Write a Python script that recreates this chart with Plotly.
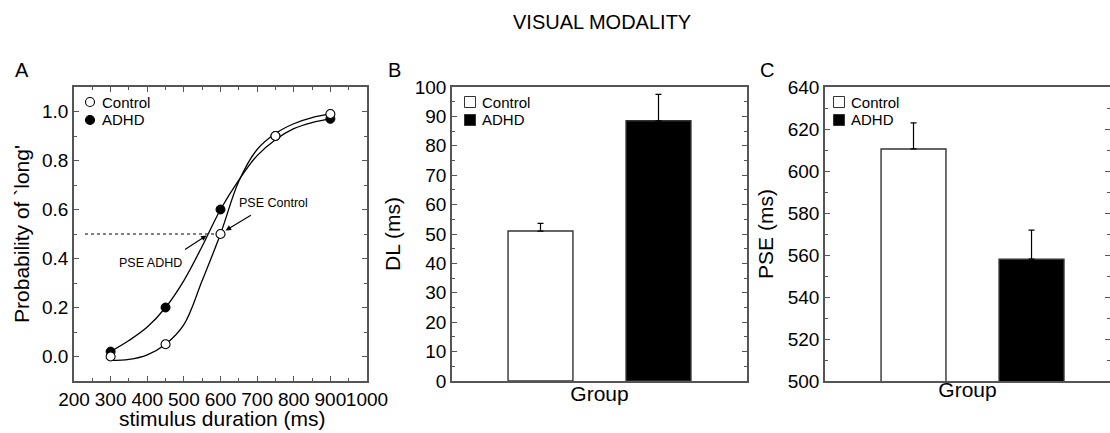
import plotly.graph_objects as go

# ---------------- data ----------------
# Panel A: psychometric data
durations = [300, 450, 600, 750, 900]
p_control = [0.0, 0.05, 0.5, 0.9, 0.99]
p_adhd = [0.02, 0.20, 0.60, 0.90, 0.97]

# fitted curves
curve_x = [300, 350, 400, 450, 500, 550, 600, 650, 700, 750, 800, 850, 900]
curve_control = [-0.016, -0.012, 0.007, 0.05, 0.13, 0.31, 0.50, 0.715, 0.845, 0.91, 0.95, 0.975, 0.99]
curve_adhd = [0.02, 0.065, 0.12, 0.20, 0.31, 0.45, 0.60, 0.72, 0.82, 0.885, 0.93, 0.955, 0.97]

pse_line_x = [230, 600]
pse_line_y = [0.5, 0.5]

# Panels B and C
groups = ["Control", "ADHD"]
group_pos = [0, 1]
dl_mean = [51.0, 88.5]
dl_err = [2.6, 9.0]
pse_mean = [610.5, 558.0]
pse_err = [12.4, 13.8]

bar_fill = ["white", "black"]

FONT = "Liberation Sans, Arial, Helvetica, sans-serif"
AXC = "#555555"
W, H = 1110, 433


def px(x):
    return x / W


def py(y):
    return (H - y) / H


fig = go.Figure()

# ---------------- Panel A ----------------
fig.add_trace(go.Scatter(x=curve_x, y=curve_control, mode="lines", line=dict(color="black", width=1.3, shape="spline"),
                         showlegend=False, xaxis="x", yaxis="y", hoverinfo="skip"))
fig.add_trace(go.Scatter(x=curve_x, y=curve_adhd, mode="lines", line=dict(color="black", width=1.3, shape="spline"),
                         showlegend=False, xaxis="x", yaxis="y", hoverinfo="skip"))
fig.add_trace(go.Scatter(x=pse_line_x, y=pse_line_y, mode="lines", line=dict(color="black", width=1.1, dash="dot"),
                         showlegend=False, xaxis="x", yaxis="y", hoverinfo="skip"))
fig.add_trace(go.Scatter(x=durations, y=p_adhd, mode="markers", name="ADHD", showlegend=False,
                         marker=dict(symbol="circle", size=9, color="black", line=dict(color="black", width=1)),
                         xaxis="x", yaxis="y"))
fig.add_trace(go.Scatter(x=durations, y=p_control, mode="markers", name="Control", showlegend=False,
                         marker=dict(symbol="circle", size=9, color="white", line=dict(color="black", width=1.1)),
                         xaxis="x", yaxis="y"))

# ---------------- Panel B ----------------
for i, g in enumerate(groups):
    fig.add_trace(go.Bar(x=[group_pos[i]], y=[dl_mean[i]], name=g, width=0.55, showlegend=False,
                         marker=dict(color=bar_fill[i], line=dict(color="#333333", width=1.4)),
                         error_y=dict(type="data", symmetric=False, array=[dl_err[i]], arrayminus=[0],
                                      color="black", thickness=1.2, width=3),
                         xaxis="x2", yaxis="y2"))

# ---------------- Panel C ----------------
for i, g in enumerate(groups):
    fig.add_trace(go.Bar(x=[group_pos[i]], y=[pse_mean[i]], name=g, width=0.55, showlegend=False,
                         marker=dict(color=bar_fill[i], line=dict(color="#333333", width=1.4)),
                         error_y=dict(type="data", symmetric=False, array=[pse_err[i]], arrayminus=[0],
                                      color="black", thickness=1.2, width=3),
                         xaxis="x3", yaxis="y3"))

ydom = [py(381), py(87)]

common = dict(showline=True, linecolor=AXC, linewidth=1.5, tickcolor=AXC, automargin=False, tickangle=0,
              tickfont=dict(size=19, color="black", family=FONT), showgrid=False, zeroline=False)

fig.update_layout(
    width=W, height=H,
    margin=dict(l=0, r=0, t=0, b=0),
    paper_bgcolor="white", plot_bgcolor="white",
    font=dict(family=FONT, color="black"),
    barmode="overlay",
    showlegend=False,
    xaxis=dict(domain=[px(74), px(367)], range=[200, 1000], dtick=100, tick0=200, ticks="inside", ticklen=5,
               mirror="allticks",
               minor=dict(dtick=50, ticklen=3, ticks="inside", tickcolor=AXC),
               anchor="y", **common),
    yaxis=dict(domain=ydom, range=[-0.1, 1.1], tickvals=[0, 0.2, 0.4, 0.6, 0.8, 1.0], tickformat=".1f",
               ticks="inside", ticklen=5, mirror="allticks",
               minor=dict(tickvals=[-0.1, 0.1, 0.3, 0.5, 0.7, 0.9, 1.1], ticklen=3, ticks="inside", tickcolor=AXC),
               title=dict(text="Probability of `long'", font=dict(size=21), standoff=7), anchor="x", **common),
    xaxis2=dict(domain=[px(452), px(747)], range=[-0.75, 1.75], showticklabels=False, mirror=True, ticks="",
                title=dict(text="Group", font=dict(size=21), standoff=5), anchor="y2", **common),
    yaxis2=dict(domain=ydom, range=[0, 100], dtick=10, ticks="inside", ticklen=5, mirror="ticks",
                minor=dict(dtick=5, ticklen=3, ticks="inside", tickcolor=AXC),
                title=dict(text="DL (ms)", font=dict(size=21), standoff=8), anchor="x2", **common),
    xaxis3=dict(domain=[px(825), 1.0], range=[-0.75, 1.665], showticklabels=False, mirror=True, ticks="",
                title=dict(text="Group", font=dict(size=21), standoff=1), anchor="y3", **common),
    yaxis3=dict(domain=ydom, range=[500, 640], dtick=20, ticks="inside", ticklen=5, mirror="ticks",
                minor=dict(dtick=10, ticklen=3, ticks="inside", tickcolor=AXC),
                title=dict(text="PSE (ms)", font=dict(size=21), standoff=8), anchor="x3", **common),
)

# ---------------- legends (symbols as shapes, labels as text) ----------------
shapes = []
legend_rows = [102, 120]
# Panel A: circles
for i, g in enumerate(groups):
    cy = legend_rows[i]
    shapes.append(dict(type="circle", xref="paper", yref="paper",
                       x0=px(90 - 4.5), x1=px(90 + 4.5), y0=py(cy + 4.5), y1=py(cy - 4.5),
                       fillcolor=bar_fill[i], line=dict(color="black", width=1.1)))
# Panels B and C: squares
for cx in (470, 839):
    for i, g in enumerate(groups):
        cy = legend_rows[i]
        shapes.append(dict(type="rect", xref="paper", yref="paper",
                           x0=px(cx - 5.5), x1=px(cx + 5.5), y0=py(cy + 5.5), y1=py(cy - 5.5),
                           fillcolor=bar_fill[i], line=dict(color="#333333", width=1)))

ann = [
    dict(text="VISUAL MODALITY", x=px(602), y=py(22), xref="paper", yref="paper", showarrow=False,
         font=dict(size=20), xanchor="center", yanchor="middle"),
    dict(text="A", x=px(22), y=py(70), xref="paper", yref="paper", showarrow=False, font=dict(size=20),
         xanchor="center", yanchor="middle"),
    dict(text="B", x=px(395), y=py(70), xref="paper", yref="paper", showarrow=False, font=dict(size=20),
         xanchor="center", yanchor="middle"),
    dict(text="C", x=px(767), y=py(70), xref="paper", yref="paper", showarrow=False, font=dict(size=20),
         xanchor="center", yanchor="middle"),
    # x-axis title of panel A
    dict(text="stimulus duration (ms)", x=px(222), y=py(418), xref="paper", yref="paper", showarrow=False,
         font=dict(size=21), xanchor="center", yanchor="middle"),
    # PSE labels
    dict(text="PSE Control", x=745, y=0.625, xref="x", yref="y", showarrow=False, font=dict(size=12.5)),
    dict(text="PSE ADHD", x=409, y=0.38, xref="x", yref="y", showarrow=False, font=dict(size=12.5)),
    dict(text="", x=614, y=0.514, ax=687, ay=0.58, xref="x", yref="y", axref="x", ayref="y",
         showarrow=True, arrowhead=2, arrowsize=1, arrowwidth=1.1, arrowcolor="black"),
    dict(text="", x=562, y=0.494, ax=499, ay=0.433, xref="x", yref="y", axref="x", ayref="y",
         showarrow=True, arrowhead=2, arrowsize=1, arrowwidth=1.1, arrowcolor="black"),
]
for (lx, _) in ((100, "A"), (480, "B"), (849, "C")):
    for i, g in enumerate(groups):
        ann.append(dict(text=g, x=px(lx), y=py(legend_rows[i]), xref="paper", yref="paper", showarrow=False,
                        font=dict(size=15), xanchor="left", yanchor="middle"))

fig.update_layout(annotations=ann, shapes=shapes)

fig.write_html("out.html", config={"displayModeBar": False},
               post_script="document.body.style.margin='0';document.body.style.padding='0';"
                           "document.body.style.overflow='hidden';")
